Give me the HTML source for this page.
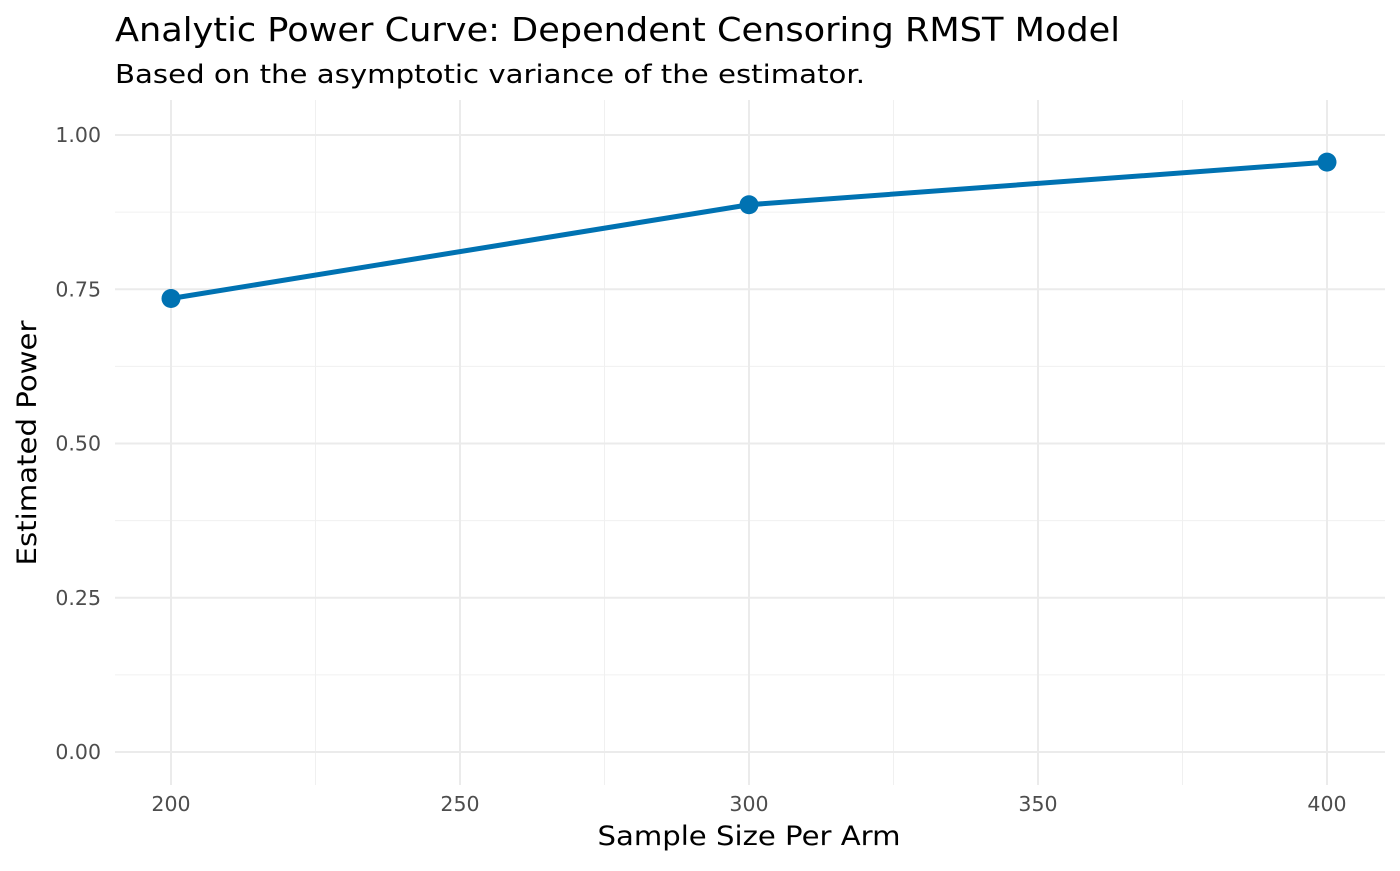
<!DOCTYPE html>
<html><head><meta charset="utf-8"><style>
body{margin:0;background:#fff;}
svg text{font-family:"DejaVu Sans","Liberation Sans",sans-serif;}
</style></head><body>
<svg width="1400" height="866" xmlns="http://www.w3.org/2000/svg">
<text x="115" y="41" font-size="33" textLength="1005" lengthAdjust="spacingAndGlyphs" fill="#000">Analytic Power Curve: Dependent Censoring RMST Model</text>
<text x="115" y="83" font-size="26" textLength="750" lengthAdjust="spacingAndGlyphs" fill="#000">Based on the asymptotic variance of the estimator.</text>
<g id="grid"></g>
<g id="marks"></g>
<g id="ticks"></g>
<text x="749" y="845" font-size="27" textLength="303" lengthAdjust="spacingAndGlyphs" text-anchor="middle" fill="#000">Sample Size Per Arm</text>
<text transform="translate(36,443) rotate(-90)" font-size="27" textLength="245" lengthAdjust="spacingAndGlyphs" text-anchor="middle" fill="#000">Estimated Power</text>
</svg>
<script>
const sampleSizes=[200,300,400];
const powerValues=[0.735,0.887,0.956];
const xTicks=[200,250,300,350,400];
const xTickLabels=["200","250","300","350","400"];
const yTicks=[0,0.25,0.5,0.75,1];
const yTickLabels=["0.00","0.25","0.50","0.75","1.00"];
const NS="http://www.w3.org/2000/svg";
function sx(v){return 171+(v-200)*(1327-171)/200;}
function sy(v){return 752-v*(752-135);}
const PL=115,PR=1385,PT=100,PB=785;
function mk(tag,attrs,parent){const e=document.createElementNS(NS,tag);for(const k in attrs)e.setAttribute(k,attrs[k]);document.getElementById(parent).appendChild(e);return e;}
for(let i=0;i<xTicks.length-1;i++){const m=(xTicks[i]+xTicks[i+1])/2;
const l=mk('line',{x1:sx(m),x2:sx(m),y1:PT,y2:PB,stroke:'#f0f0f0','stroke-width':1},'grid');

}
for(let i=0;i<yTicks.length-1;i++){const m=(yTicks[i]+yTicks[i+1])/2;
const l=mk('line',{x1:PL,x2:PR,y1:sy(m),y2:sy(m),stroke:'#f0f0f0','stroke-width':1},'grid');

}
xTicks.forEach((t,i)=>{
const l=mk('line',{x1:sx(t),x2:sx(t),y1:PT,y2:PB,stroke:'#ebebeb','stroke-width':2},'grid');


const tx=mk('text',{x:sx(t),y:811,'font-size':20.5,'text-anchor':'middle',fill:'#4d4d4d'},'ticks');
tx.textContent=xTickLabels[i];

});
yTicks.forEach((t,i)=>{
const l=mk('line',{x1:PL,x2:PR,y1:sy(t),y2:sy(t),stroke:'#ebebeb','stroke-width':2},'grid');


const tx=mk('text',{x:101,y:sy(t)+7,'font-size':20.5,'text-anchor':'end',fill:'#4d4d4d'},'ticks');
tx.textContent=yTickLabels[i];

});
const pts=sampleSizes.map((s,i)=>sx(s)+','+sy(powerValues[i])).join(' ');
const pl=mk('polyline',{points:pts,fill:'none',stroke:'#0072b2','stroke-width':5},'marks');


sampleSizes.forEach((s,i)=>{
const c=mk('circle',{cx:sx(s),cy:sy(powerValues[i]),r:9.5,fill:'#0072b2'},'marks');

});
</script>
</body></html>
